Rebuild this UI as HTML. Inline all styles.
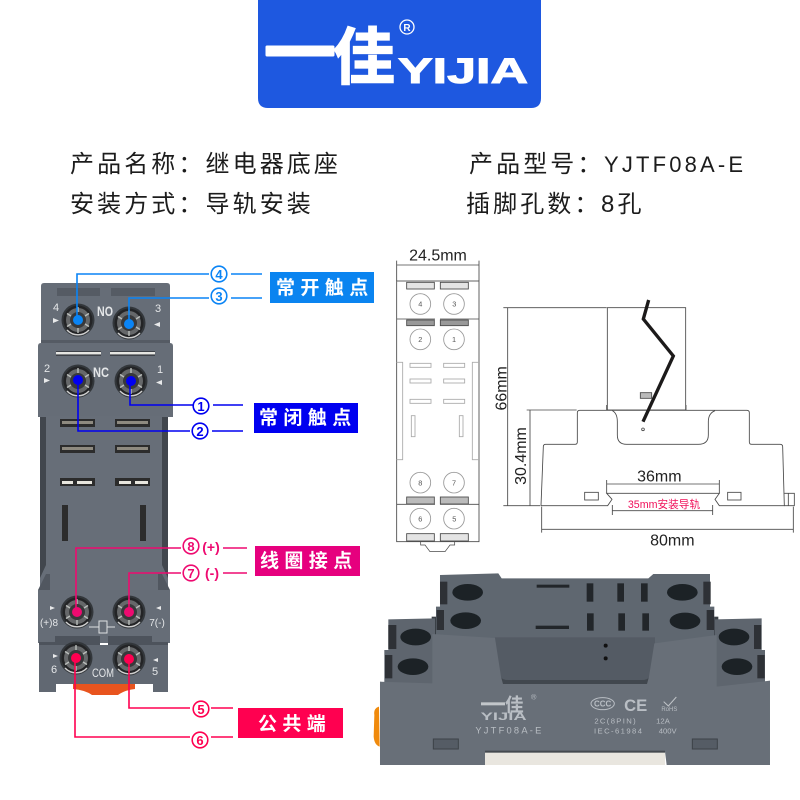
<!DOCTYPE html>
<html lang="zh"><head><meta charset="utf-8"><title>继电器底座</title>
<style>
html,body{margin:0;padding:0;background:#fff}
svg{display:block}
text{font-family:"Liberation Sans","Noto Sans CJK SC",sans-serif}
.h{font-size:24px;fill:#1c1c1c;letter-spacing:3.1px}
.lb{font-size:19px;font-weight:700;fill:#fff;letter-spacing:5.4px}
.d{font-size:13px;font-weight:700;text-anchor:middle}
.dev{font-size:11px;fill:#e4e6e8;text-anchor:middle}
.dim{font-size:48px;fill:#222;text-anchor:middle}
.pn{font-size:22px;fill:#555;text-anchor:middle}
.ph{fill:#b9bec4;text-anchor:middle}
</style></head><body>
<svg xmlns="http://www.w3.org/2000/svg" width="800" height="800" viewBox="0 0 800 800">
<defs>
<g id="screw">
<circle r="16.5" fill="#33373b"/>
<circle r="14.5" fill="#232426"/>
<circle r="12" fill="#66686a"/>
<circle r="8" fill="#38393b"/>
<g stroke="#b9bdba" stroke-width="1.4">
<path d="M0-8V-13M7-4L11-6.5M7 4L11 6.5M0 8V13M-7 4L-11 6.5M-7-4L-11-6.5"/>
</g>
<path d="M-11 10A15 15 0 0 0 11 10" stroke="#cfcfcf" stroke-width="1.4" fill="none"/>
</g>
</defs>
<rect width="800" height="800" fill="#fff"/>

<!-- Header logo -->
<path d="M258 0H541V98Q541 108 531 108H268Q258 108 258 98Z" fill="#1e58e0"/>
<g fill="#fff" stroke="#fff">
<rect x="266" y="46" width="68" height="10" rx="1"/>
<text x="333" y="79" font-size="62" font-weight="700" stroke-width="1.2" style="font-family:'Noto Sans CJK SC',sans-serif">佳</text>
<text x="398" y="83" font-size="35" font-weight="700" stroke-width="1" textLength="130" lengthAdjust="spacingAndGlyphs">YIJIA</text>
<circle cx="407" cy="27" r="7" fill="none" stroke-width="1.3"/>
<text x="407" y="31" font-size="10" text-anchor="middle" font-weight="700" stroke="none">R</text>
</g>

<!-- Heading text -->
<text class="h" x="70" y="172">产品名称：继电器底座</text>
<text class="h" x="70" y="212">安装方式：导轨安装</text>
<text class="h" x="469" y="172">产品型号：</text>
<text x="604" y="172" font-size="22" fill="#1c1c1c" textLength="139" lengthAdjust="spacing">YJTF08A-E</text>
<text class="h" x="466" y="212">插脚孔数：</text>
<text class="h" x="601" y="212">8孔</text>

<!-- Relay socket, front view -->
<path d="M73 684H135V689Q125 690 118 695H92Q85 690 73 689Z" fill="#e8541e"/>
<path d="M41 286Q41 283 44 283H167Q170 283 170 286V345H41Z" fill="#666d77"/>
<rect x="57" y="288" width="43" height="8" fill="#555b64"/>
<rect x="111" y="288" width="44" height="8" fill="#555b64"/>
<rect x="41" y="340" width="129" height="4" fill="#555b64"/>
<path d="M38 346Q38 343 41 343H170Q173 343 173 346V417H38Z" fill="#666d77"/>
<rect x="56" y="351" width="45" height="5" fill="#3e4248"/>
<rect x="56" y="352" width="45" height="2.4" fill="#e6e6e2"/>
<rect x="110" y="351" width="45" height="5" fill="#3e4248"/>
<rect x="110" y="352" width="45" height="2.4" fill="#e6e6e2"/>
<rect x="40" y="416" width="128" height="175" fill="#676e78"/>
<path d="M40 417H46V565L40 578Z" fill="#41464d"/>
<path d="M168 417H162V565L168 578Z" fill="#41464d"/>
<path d="M38 590L46 574H50L50 590Z" fill="#515760"/>
<path d="M170 590L162 574H158L158 590Z" fill="#515760"/>
<path d="M38 590H170V643H38Z" fill="#666d77"/>
<path d="M39 642V692H56L56 684H153V692H168V642H152V636H108V645H100V636H55V642Z" fill="#616872"/>
<path d="M55 636H100V645H108V636H152V642H168V645H39V642H55Z" fill="#4d535c"/>

<g fill="#2c2c2c">
<rect x="60" y="419" width="35" height="8"/><rect x="115" y="419" width="35" height="8"/>
<rect x="60" y="445" width="35" height="8"/><rect x="115" y="445" width="35" height="8"/>
<rect x="60" y="478" width="35" height="8"/><rect x="115" y="478" width="35" height="8"/>
<rect x="62" y="505" width="6" height="36"/><rect x="140" y="505" width="6" height="36"/>
</g>
<g fill="#8e8a80">
<rect x="62" y="421" width="31" height="3"/><rect x="117" y="421" width="31" height="3"/>
<rect x="62" y="447" width="31" height="3"/><rect x="117" y="447" width="31" height="3"/>
</g>
<g fill="#e8e6de">
<rect x="62" y="481" width="11" height="3"/><rect x="77" y="481" width="15" height="3"/>
<rect x="119" y="481" width="12" height="3"/><rect x="135" y="481" width="13" height="3"/>
</g>

<use href="#screw" x="78" y="320"/><use href="#screw" x="129" y="323"/>
<use href="#screw" x="78" y="381"/><use href="#screw" x="131" y="381"/>
<use href="#screw" x="77" y="612"/><use href="#screw" x="129" y="612"/>
<use href="#screw" x="76" y="658"/><use href="#screw" x="129" y="659"/>

<g class="devg">
<text class="dev" x="56" y="311">4</text><text class="dev" x="158" y="312">3</text>
<text class="dev" x="47" y="372">2</text><text class="dev" x="160" y="373">1</text>
<text class="dev" x="105" y="316" textLength="16" lengthAdjust="spacingAndGlyphs" style="font-size:14px;font-weight:700">NO</text>
<text class="dev" x="101" y="377" textLength="16" lengthAdjust="spacingAndGlyphs" style="font-size:14px;font-weight:700">NC</text>
<text class="dev" x="49" y="626" style="font-size:10px">(+)8</text>
<text class="dev" x="157" y="626" style="font-size:10px">7(-)</text>
<text class="dev" x="54" y="673" style="font-size:11px">6</text>
<text class="dev" x="155" y="675" style="font-size:11px">5</text>
<text class="dev" x="103" y="677" textLength="22" lengthAdjust="spacingAndGlyphs" style="font-size:12px">COM</text>
</g>
<g fill="#e8e9ea">
<path d="M53 318l6 2.5-6 2.5z"/><path d="M160 322l-6 2.5 6 2.5z"/>
<path d="M44 378l6 2.5-6 2.5z"/><path d="M162 380l-6 2.5 6 2.5z"/>
<path d="M50 606l5 2-5 2z"/><path d="M161 606l-5 2 5 2z"/>
<path d="M53 654l5 2-5 2z"/><path d="M158 658l-5 2 5 2z"/>
</g>
<path d="M89 627H99M107 627H115" stroke="#dfe1e3" fill="none"/>
<rect x="99" y="621" width="8" height="12" fill="none" stroke="#dfe1e3"/>

<!-- Blue (NO) -->
<g fill="none" stroke="#0a84f5" stroke-width="1.6">
<path d="M77 320V274H209M231 274H262"/>
<path d="M129 324V298H209M231 298H262"/>
</g>
<circle cx="78" cy="320" r="5" fill="#0a84f5"/><circle cx="129" cy="324" r="5" fill="#0a84f5"/>
<g fill="#fff" stroke="#0a84f5" stroke-width="1.6">
<circle cx="219" cy="274" r="7.8"/><circle cx="219" cy="296" r="7.8"/>
</g>
<g fill="#0a84f5"><text class="d" x="219" y="279">4</text><text class="d" x="219" y="301">3</text></g>
<rect x="270" y="272" width="104" height="31" fill="#0a84f0"/>
<text class="lb" x="276" y="294">常开触点</text>

<!-- Dark blue (NC) -->
<g fill="none" stroke="#0000f0" stroke-width="1.6">
<path d="M130 381V405H193M213 405H243"/>
<path d="M78 381V431H190M212 431H243"/>
</g>
<circle cx="78" cy="380" r="5" fill="#0000f0"/><circle cx="131" cy="381" r="5" fill="#0000f0"/>
<g fill="#fff" stroke="#0000f0" stroke-width="1.6">
<circle cx="201" cy="406" r="7.8"/><circle cx="200" cy="431" r="7.8"/>
</g>
<g fill="#0000f0"><text class="d" x="201" y="411">1</text><text class="d" x="200" y="436">2</text></g>
<rect x="254" y="403" width="104" height="30" fill="#0000f0"/>
<text class="lb" x="259" y="424">常闭触点</text>

<!-- Magenta (coil) -->
<g fill="none" stroke="#ee0a70" stroke-width="1.6">
<path d="M76 612V548H181M223 548H247"/>
<path d="M129 612V573H181M223 573H247"/>
</g>
<circle cx="77" cy="612" r="5" fill="#ee0a70"/><circle cx="129" cy="612" r="5" fill="#ee0a70"/>
<g fill="#fff" stroke="#ee0a70" stroke-width="1.6">
<circle cx="191" cy="546" r="7.8"/><circle cx="191" cy="573" r="7.8"/>
</g>
<g fill="#ee0a70">
<text class="d" x="191" y="551">8</text><text class="d" x="191" y="578">7</text>
<text x="211" y="552" font-size="14" font-weight="700" text-anchor="middle">(+)</text>
<text x="212" y="578" font-size="14" font-weight="700" text-anchor="middle">(-)</text>
</g>
<rect x="255" y="546" width="105" height="30" fill="#e6007e"/>
<text class="lb" x="260" y="567">线圈接点</text>

<!-- Red (COM) -->
<g fill="none" stroke="#ff0050" stroke-width="1.6">
<path d="M129 659V708H190M211 708H233"/>
<path d="M75 658V737H190M211 737H233"/>
</g>
<circle cx="76" cy="658" r="5" fill="#ff0050"/><circle cx="129" cy="659" r="5" fill="#ff0050"/>
<g fill="#fff" stroke="#ff0050" stroke-width="1.6">
<circle cx="201" cy="709" r="7.8"/><circle cx="200" cy="740" r="7.8"/>
</g>
<g fill="#ff0050"><text class="d" x="201" y="714">5</text><text class="d" x="200" y="745">6</text></g>
<rect x="238" y="708" width="105" height="30" fill="#ff0050"/>
<text class="lb" x="258" y="730">公共端</text>

<!-- Dimension drawings -->
<g transform="translate(380 240) scale(.33333)" fill="none" stroke="#4a4a4a" stroke-width="2.6">
<rect x="50" y="123" width="247" height="782"/>
<path d="M50 237H165M180 237H297M50 793H165M180 793H297"/>
<path d="M50 62V123M297 62V123M50 75H297"/>
<g fill="#e4e4e4">
<rect x="80" y="127" width="83" height="20"/><rect x="181" y="127" width="84" height="20"/>
<rect x="80" y="240" width="83" height="17" fill="#999"/><rect x="181" y="240" width="84" height="17" fill="#999"/>
<rect x="80" y="771" width="83" height="21" fill="#bbb"/><rect x="181" y="771" width="84" height="21" fill="#bbb"/>
<rect x="80" y="881" width="83" height="22"/><rect x="181" y="881" width="84" height="22"/>
</g>
<g stroke="#999">
<circle cx="121" cy="192" r="31"/><circle cx="222" cy="192" r="31"/>
<circle cx="121" cy="298" r="31"/><circle cx="222" cy="298" r="31"/>
<circle cx="121" cy="728" r="31"/><circle cx="222" cy="728" r="31"/>
<circle cx="121" cy="836" r="31"/><circle cx="222" cy="836" r="31"/>
</g>
<g stroke="#aaa">
<rect x="90" y="370" width="63" height="12"/><rect x="191" y="370" width="63" height="12"/>
<rect x="90" y="417" width="63" height="12"/><rect x="191" y="417" width="63" height="12"/>
<rect x="90" y="478" width="63" height="12"/><rect x="191" y="478" width="63" height="12"/>
<rect x="94" y="527" width="11" height="63"/><rect x="238" y="527" width="11" height="63"/>
<path d="M50 367H68V659H50M297 367H277V659H297"/>
</g>
<path d="M122 905V915H135L150 935H195L210 915H224V905" stroke-width="2.2"/>

<!-- side view -->
<rect x="682" y="203" width="235" height="307"/>
<path d="M680 495V510M918 495V510"/>
<path d="M370 203H680M383 203V797M370 797H480M440 510H590M450 510V797"/>
<path d="M483 797L490 620Q490 613 497 613H585Q592 613 592 606V518Q592 511 600 511H1100Q1108 511 1108 518V606Q1108 613 1115 613H1200Q1208 613 1208 620L1213 797H1018L1005 778 1018 760H680L696 778 683 797Z"/>
<path d="M697 512Q712 520 712 545V585Q712 613 740 613H955Q985 613 985 585V545Q985 520 1005 512"/>
<circle cx="789" cy="568" r="4"/>
<rect x="781" y="458" width="34" height="17" fill="#bbb"/>
<rect x="614" y="757" width="41" height="23"/><rect x="1043" y="757" width="40" height="23"/>
<path d="M1213 760H1243V797H1213M1225 760V797"/>
<path d="M680 732H1018M680 720V760M1018 720V760"/>
<path d="M697 812H998M697 795V825M998 795V825"/>
<path d="M485 868H1240M485 800V878M1240 800V878"/>
</g>
<g transform="translate(380 240) scale(.33333)">
<path d="M806 180L790 237 880 348 789 545" fill="none" stroke="#1c1a1a" stroke-width="10"/>
<text class="dim" x="174" y="62">24.5mm</text>
<text class="dim" x="838" y="724">36mm</text>
<text class="dim" x="877" y="916">80mm</text>
<text class="dim" transform="translate(380 445) rotate(-90)">66mm</text>
<text class="dim" transform="translate(438 648) rotate(-90)">30.4mm</text>
<text x="852" y="804" font-size="32" fill="#f0105a" text-anchor="middle">35mm安装导轨</text>
<g>
<text class="pn" x="121" y="200">4</text><text class="pn" x="223" y="200">3</text>
<text class="pn" x="121" y="306">2</text><text class="pn" x="222" y="306">1</text>
<text class="pn" x="121" y="736">8</text><text class="pn" x="222" y="736">7</text>
<text class="pn" x="121" y="844">6</text><text class="pn" x="223" y="844">5</text>
</g>
</g>

<!-- Photo of socket -->
<g transform="translate(375 560) scale(.33333)">
<path d="M12 440Q-5 445 -2 465L-4 530Q-2 555 14 560Z" fill="#f08a0c"/>
<rect x="170" y="170" width="40" height="90" fill="#3b4046"/>
<rect x="1000" y="170" width="30" height="90" fill="#3b4046"/>
<path d="M195 45L370 40 380 55H820L835 42 1005 42V140H1018V270H183V140H195Z" fill="#5f6770"/>
<path d="M40 178L180 175V400H28V270H40Z" fill="#5e656e"/>
<path d="M1020 178L1160 175V270H1170V400H1020Z" fill="#5e656e"/>
<rect x="40" y="195" width="24" height="72" fill="#2e3136"/>
<rect x="30" y="285" width="22" height="70" fill="#2e3136"/>
<rect x="195" y="65" width="22" height="68" fill="#2e3136"/>
<rect x="185" y="150" width="22" height="60" fill="#2e3136"/>
<rect x="985" y="65" width="22" height="68" fill="#2e3136"/>
<rect x="995" y="150" width="22" height="60" fill="#2e3136"/>
<rect x="1137" y="195" width="22" height="72" fill="#2e3136"/>
<rect x="1147" y="285" width="22" height="70" fill="#2e3136"/>
<g fill="#1c2226">
<ellipse cx="278" cy="97" rx="46" ry="25"/><ellipse cx="272" cy="182" rx="46" ry="25"/>
<ellipse cx="922" cy="97" rx="46" ry="25"/><ellipse cx="930" cy="183" rx="46" ry="25"/>
<ellipse cx="122" cy="231" rx="46" ry="25"/><ellipse cx="114" cy="320" rx="46" ry="25"/>
<ellipse cx="1077" cy="231" rx="46" ry="25"/><ellipse cx="1086" cy="320" rx="46" ry="25"/>
</g>
<g fill="#22262a">
<rect x="485" y="74" width="98" height="9"/><rect x="482" y="197" width="100" height="10"/>
<rect x="635" y="70" width="20" height="55"/><rect x="727" y="70" width="20" height="55"/>
<rect x="798" y="70" width="20" height="55"/>
<rect x="636" y="160" width="20" height="52"/><rect x="730" y="160" width="20" height="52"/>
<rect x="802" y="160" width="20" height="52"/>
</g>
<rect x="360" y="232" width="480" height="130" fill="#545b64"/>
<path d="M172 222L360 234 378 350Q380 360 400 360H800Q820 360 822 350L838 250 1025 225V380L1185 362V615H875L870 575H330V615H15V365L172 370Z" fill="#686f78"/>
<path d="M378 350Q380 360 400 360H800Q820 360 822 350L816 372H384Z" fill="#41474e"/>
<rect x="330" y="575" width="540" height="40" fill="#e9e6df"/>
<rect x="330" y="572" width="540" height="6" fill="#44494f"/>
<circle cx="692" cy="257" r="6" fill="#111"/><circle cx="692" cy="295" r="6" fill="#111"/>
<rect x="175" y="537" width="75" height="30" fill="#555c65" stroke="#3d4248" stroke-width="3"/>
<rect x="952" y="537" width="75" height="30" fill="#555c65" stroke="#3d4248" stroke-width="3"/>
<g class="ph">
<rect x="318" y="427" width="72" height="9" fill="#c2c6ca" stroke="none"/>
<text class="ph" x="418" y="455" font-size="56" font-weight="700" style="font-family:'Noto Sans CJK SC',sans-serif">佳</text>
<text class="ph" x="386" y="480" font-size="32" font-weight="700" textLength="138" lengthAdjust="spacingAndGlyphs">YIJIA</text>
<text class="ph" x="400" y="521" font-size="28" textLength="198" lengthAdjust="spacing">YJTF08A-E</text>
<text class="ph" x="476" y="418" font-size="22">®</text>
<ellipse cx="683" cy="431" rx="35" ry="18" fill="none" stroke="#b9bec4" stroke-width="3"/>
<text class="ph" x="683" y="440" font-size="24" font-weight="700">CCC</text>
<text class="ph" x="782" y="453" font-size="50" font-weight="700">CE</text>
<path d="M866 425L880 438 904 411" fill="none" stroke="#c0c4c8" stroke-width="3"/>
<text class="ph" x="883" y="453" font-size="18">RoHS</text>
<text class="ph" x="720" y="490" font-size="23" textLength="124" lengthAdjust="spacing">2C(8PIN)</text>
<text class="ph" x="729" y="521" font-size="23" textLength="144" lengthAdjust="spacing">IEC-61984</text>
<text class="ph" x="864" y="490" font-size="23">12A</text>
<text class="ph" x="878" y="521" font-size="23">400V</text>
</g>
</g>
</svg>
</body></html>
